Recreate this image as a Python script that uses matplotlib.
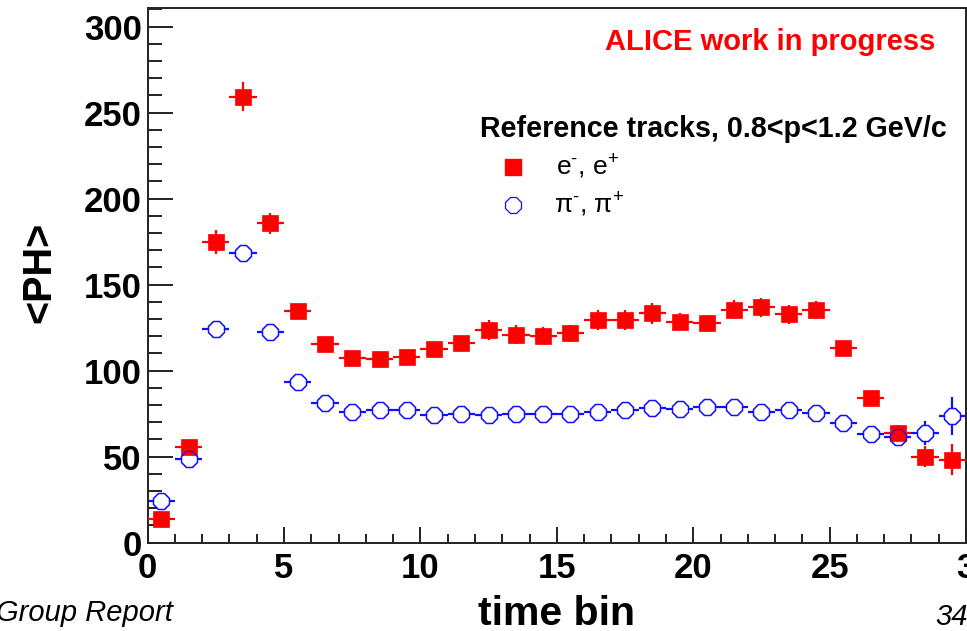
import numpy as np
import matplotlib
matplotlib.use("Agg")
import matplotlib.pyplot as plt

plt.rcParams["font.family"] = "Liberation Sans"
plt.rcParams["mathtext.fontset"] = "custom"
plt.rcParams["mathtext.rm"] = "Liberation Sans"
plt.rcParams["mathtext.it"] = "Liberation Sans:italic"
plt.rcParams["mathtext.bf"] = "Liberation Sans:bold"

# mean pulse height per time bin, reference tracks 0.8<p<1.2 GeV/c
time_bin = np.arange(30) + 0.5
ph_electron = [13.8, 55.5, 174.6, 259.3, 185.7, 134.5, 115.2, 107.6, 106.6, 108.2,
               112.4, 115.9, 123.7, 120.8, 120.2, 121.7, 129.5, 129.5, 133.4, 128.5,
               127.5, 135.3, 136.9, 132.8, 135.3, 113.4, 84.3, 64.0, 50.0, 48.1]
err_electron = [3, 4, 7, 8.5, 6, 4, 4, 4, 4, 4,
                4, 4, 6, 5.5, 5, 5, 6, 6, 6, 5,
                5, 5.5, 5.5, 5.5, 5, 4, 4, 4.5, 6, 9]
ph_pion = [24.4, 48.5, 124.2, 168.4, 122.4, 93.2, 81.0, 76.2, 77.2, 77.2,
           74.2, 74.6, 74.2, 74.6, 74.6, 74.6, 76.2, 77.2, 78.1, 77.5,
           79.0, 79.0, 76.2, 77.2, 75.6, 69.4, 63.0, 61.6, 63.6, 73.7]
err_pion = [2, 2, 2.5, 3, 2.5, 2, 2, 2, 2, 2,
            2, 2, 2, 2, 2, 2, 2, 2, 2, 2,
            2, 2, 2, 2, 2, 2.5, 3, 4, 7, 11]
bin_half_width = [0.5] * 30

fig = plt.figure(figsize=(9.67, 6.31), dpi=100)
ax = fig.add_axes([0.1527, 0.140, 0.8463, 0.847])

red = "#ff0000"
blue = "#1010ff"

# pions first with white faces so the bars stop at the marker edge
ax.errorbar(time_bin, ph_pion, yerr=err_pion, xerr=bin_half_width, fmt="8",
            color=blue, ecolor=blue, elinewidth=1.6, capsize=0, ms=13,
            mfc="white", mec=blue, mew=0.9, zorder=2)
ax.errorbar(time_bin, ph_electron, yerr=err_electron, xerr=bin_half_width, fmt="s",
            color=red, ecolor=red, elinewidth=1.6, capsize=0, ms=12.2,
            mfc=red, mec=red, mew=0.5, zorder=3)
# open pion outlines on top of everything
ax.plot(time_bin, ph_pion, ls="none", marker="8", ms=13, mfc="none",
        mec=blue, mew=0.9, zorder=4)

ax.set_xlim(0, 30)
ax.set_ylim(0, 310.7)
ax.set_xticks([0, 5, 10, 15, 20, 25, 30])
ax.set_xticklabels(["0", "5", "10", "15", "20", "25", "3"])
ax.set_xticks(np.arange(0, 31, 1), minor=True)
ax.set_yticks([0, 50, 100, 150, 200, 250, 300])
ax.set_yticks(np.arange(0, 311, 10), minor=True)

ax.tick_params(axis="both", which="both", direction="in", colors="#222222",
               width=1.4, top=False, right=False)
ax.tick_params(axis="x", which="major", length=11.5, pad=6.5)
ax.tick_params(axis="x", which="minor", length=6.5)
ax.tick_params(axis="y", which="major", length=18, pad=4.3)
ax.tick_params(axis="y", which="minor", length=10)
for lab in ax.get_xticklabels() + ax.get_yticklabels():
    lab.set_fontsize(25)
    lab.set_fontweight("bold")
    lab.set_color("black")
for sp in ax.spines.values():
    sp.set_linewidth(1.4)
    sp.set_color("#222222")

# annotations and hand-built legend
ax.text(0.962, 0.922, "ALICE work in progress", transform=ax.transAxes,
        ha="right", va="baseline", color=red, fontsize=21, fontweight="bold")
ax.text(0.406, 0.759, "Reference tracks, 0.8<p<1.2 GeV/c", transform=ax.transAxes,
        ha="left", va="baseline", fontsize=20.6, fontweight="bold")
ax.plot([0.4465], [0.703], transform=ax.transAxes, marker="s", ms=12.2,
        color=red, ls="none", clip_on=False)
ax.plot([0.4465], [0.632], transform=ax.transAxes, marker="8", ms=13,
        mfc="none", mec=blue, mew=0.9, ls="none", clip_on=False)
ax.text(0.499, 0.688, r"e$^{\text{-}}$, e$^{+}$", transform=ax.transAxes,
        ha="left", va="baseline", fontsize=19)
ax.text(0.497, 0.617, r"π$^{\text{-}}$, π$^{+}$", transform=ax.transAxes,
        ha="left", va="baseline", fontsize=19)

fig.text(0.0403, 0.568, "<PH>", rotation=90, ha="center", va="center",
         fontsize=28.5, fontweight="bold")
fig.text(0.575, 0.0095, "time bin", ha="center", va="baseline",
         fontsize=29.5, fontweight="bold")
fig.text(-0.004, 0.0158, "Group Report", ha="left", va="baseline",
         fontsize=21, style="italic")
fig.text(0.967, 0.0095, "34", ha="left", va="baseline",
         fontsize=21, style="italic")

fig.savefig("out.png", dpi=100)
